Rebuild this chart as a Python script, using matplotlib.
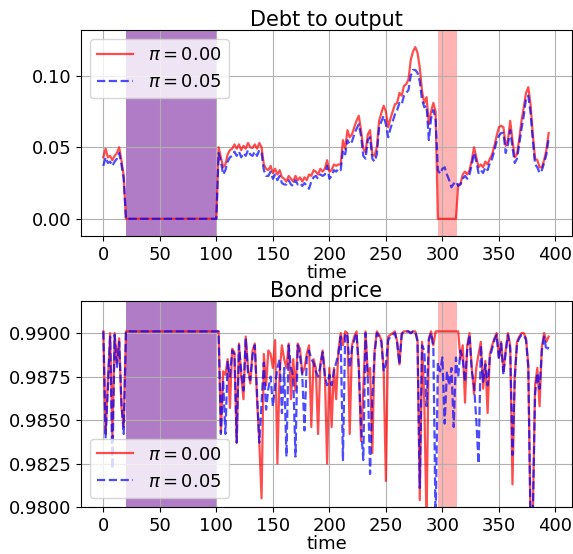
import numpy as np
import matplotlib
matplotlib.use("Agg")
import matplotlib.pyplot as plt

# time index (every second period)
time = list(range(0, 396, 2))

# ---------------- Debt to output ----------------
debt_pi000 = (
    [0.043, 0.049, 0.043, 0.044, 0.041, 0.044, 0.046, 0.050, 0.041, 0.030]
    + [0.0] * 41
    + [0.050, 0.043, 0.036, 0.038, 0.045, 0.048, 0.049, 0.052, 0.049, 0.052,
       0.048, 0.051, 0.049, 0.053, 0.050, 0.0495, 0.052, 0.049, 0.053, 0.050,
       0.038, 0.035, 0.034, 0.037, 0.032, 0.035, 0.031, 0.034, 0.029, 0.028,
       0.026, 0.030, 0.028, 0.026, 0.030, 0.027, 0.029, 0.026, 0.029, 0.027,
       0.031, 0.030, 0.034, 0.033, 0.031, 0.035, 0.033, 0.035, 0.041]
    + [0.033, 0.034, 0.038, 0.037, 0.038, 0.038, 0.055, 0.049, 0.062, 0.057,
       0.059, 0.064, 0.0685, 0.072, 0.062, 0.049, 0.0465, 0.059, 0.062, 0.045,
       0.044, 0.050, 0.0685, 0.074, 0.079, 0.075, 0.064, 0.070, 0.075, 0.080,
       0.081, 0.088, 0.086, 0.093, 0.094, 0.0975, 0.111, 0.117, 0.120, 0.116,
       0.1055, 0.089, 0.081, 0.085, 0.066, 0.075, 0.081, 0.075]
    + [0.0] * 9
    + [0.024, 0.0245, 0.031, 0.033, 0.031, 0.034, 0.041, 0.050, 0.043, 0.036,
       0.038, 0.036, 0.040, 0.038, 0.042, 0.045, 0.051, 0.058, 0.064, 0.065,
       0.064, 0.051, 0.055, 0.0685, 0.055, 0.043, 0.045, 0.056, 0.0685, 0.078,
       0.088, 0.092, 0.080, 0.059, 0.042, 0.041, 0.036, 0.036, 0.041, 0.048,
       0.060]
)

debt_pi005 = (
    [0.037, 0.043, 0.039, 0.040, 0.037, 0.040, 0.042, 0.046, 0.038, 0.028]
    + [0.0] * 41
    + [0.046, 0.040, 0.031, 0.034, 0.040, 0.043, 0.044, 0.047, 0.044, 0.047,
       0.043, 0.046, 0.044, 0.048, 0.045, 0.044, 0.047, 0.044, 0.048, 0.046,
       0.034, 0.030, 0.030, 0.033, 0.028, 0.031, 0.027, 0.030, 0.025, 0.024,
       0.024, 0.027, 0.024, 0.023, 0.027, 0.024, 0.025, 0.023, 0.025, 0.023,
       0.021, 0.026, 0.029, 0.030, 0.028, 0.031, 0.030, 0.031, 0.037]
    + [0.028, 0.030, 0.034, 0.033, 0.035, 0.034, 0.048, 0.045, 0.055, 0.052,
       0.054, 0.059, 0.063, 0.066, 0.058, 0.044, 0.042, 0.055, 0.057, 0.042,
       0.040, 0.045, 0.064, 0.068, 0.072, 0.066, 0.057, 0.063, 0.068, 0.073,
       0.076, 0.081, 0.080, 0.086, 0.088, 0.090, 0.100, 0.104, 0.104, 0.102,
       0.096, 0.083, 0.078, 0.079, 0.055, 0.070, 0.076, 0.070]
    + [0.034, 0.0315, 0.035, 0.036, 0.031, 0.027, 0.022, 0.0245, 0.026]
    + [0.023, 0.024, 0.028, 0.030, 0.028, 0.031, 0.038, 0.046, 0.040, 0.032,
       0.034, 0.032, 0.036, 0.034, 0.039, 0.042, 0.048, 0.054, 0.058, 0.060,
       0.060, 0.046, 0.052, 0.062, 0.050, 0.039, 0.042, 0.052, 0.063, 0.072,
       0.084, 0.086, 0.074, 0.055, 0.038, 0.036, 0.032, 0.034, 0.039, 0.045,
       0.056]
)

# ---------------- Bond price ----------------
price_pi000 = (
    [0.9901, 0.9842, 0.9873, 0.9900, 0.9840, 0.9900, 0.9883, 0.9897, 0.9858, 0.9846]
    + [0.9901] * 41
    + [0.9901, 0.9843, 0.9878, 0.9876, 0.9885, 0.9857, 0.9891, 0.9889, 0.9837, 0.9894,
       0.9875, 0.9862, 0.9898, 0.9880, 0.9871, 0.9890, 0.9894, 0.9862, 0.9837, 0.9805,
       0.9888, 0.9870, 0.9890, 0.9888, 0.9880, 0.9896, 0.9825, 0.9878, 0.9893, 0.9885,
       0.9880, 0.9894, 0.9862, 0.9885, 0.9867, 0.9894, 0.9891, 0.9877, 0.9880, 0.9888,
       0.9893, 0.9846, 0.9885, 0.9880, 0.9842, 0.9882, 0.9890, 0.9877, 0.9825]
    + [0.9880, 0.9846, 0.9880, 0.9862, 0.9890, 0.9900, 0.9893, 0.9901, 0.9900, 0.9842,
       0.9893, 0.9898, 0.9901, 0.9882, 0.9838, 0.9868, 0.9901, 0.9876, 0.9880, 0.9831,
       0.9890, 0.9901, 0.9899, 0.9896, 0.9880, 0.9815, 0.9898, 0.9899, 0.9900, 0.9901,
       0.9895, 0.9882, 0.9900, 0.9901, 0.9901, 0.9901, 0.9900, 0.9901, 0.9901, 0.9896,
       0.9804, 0.9895, 0.9860, 0.9790, 0.9897, 0.9901, 0.9893, 0.9901]
    + [0.9901] * 9
    + [0.9901, 0.9885, 0.9893, 0.9860, 0.9893, 0.9900, 0.9880, 0.9865, 0.9880, 0.9888,
       0.9895, 0.9868, 0.9884, 0.9854, 0.9888, 0.9893, 0.9897, 0.9900, 0.9886, 0.9895,
       0.9878, 0.9890, 0.9900, 0.9893, 0.9813, 0.9875, 0.9895, 0.9898, 0.9900, 0.9900,
       0.9897, 0.9882, 0.9790, 0.9795, 0.9870, 0.9880, 0.9858, 0.9892, 0.9900, 0.9895,
       0.9898]
)

price_pi005 = (
    [0.9901, 0.9840, 0.9868, 0.9898, 0.9822, 0.9899, 0.9880, 0.9895, 0.9860, 0.9842]
    + [0.9901] * 41
    + [0.9901, 0.9842, 0.9873, 0.9842, 0.9884, 0.9875, 0.9890, 0.9888, 0.9837, 0.9893,
       0.9878, 0.9867, 0.9897, 0.9877, 0.9873, 0.9887, 0.9893, 0.9865, 0.9837, 0.9860,
       0.9883, 0.9856, 0.9868, 0.9875, 0.9858, 0.9870, 0.9880, 0.9885, 0.9854, 0.9880,
       0.9829, 0.9893, 0.9880, 0.9875, 0.9829, 0.9893, 0.9887, 0.9876, 0.9844, 0.9886,
       0.9890, 0.9885, 0.9883, 0.9878, 0.9875, 0.9881, 0.9889, 0.9875, 0.9870]
    + [0.9876, 0.9870, 0.9878, 0.9883, 0.9888, 0.9898, 0.9827, 0.9900, 0.9898, 0.9880,
       0.9891, 0.9896, 0.9900, 0.9880, 0.9846, 0.9827, 0.9900, 0.9874, 0.9819, 0.9864,
       0.9888, 0.9900, 0.9898, 0.9895, 0.9878, 0.9882, 0.9896, 0.9898, 0.9899, 0.9900,
       0.9894, 0.9882, 0.9899, 0.9901, 0.9901, 0.9901, 0.9900, 0.9901, 0.9901, 0.9895,
       0.9811, 0.9893, 0.9890, 0.9858, 0.9896, 0.9900, 0.9892, 0.9790]
    + [0.9883, 0.9878, 0.9886, 0.9848, 0.9878, 0.9870, 0.9880, 0.9846, 0.9886]
    + [0.9875, 0.9890, 0.9885, 0.9872, 0.9891, 0.9899, 0.9878, 0.9870, 0.9850, 0.9825,
       0.9893, 0.9872, 0.9882, 0.9870, 0.9886, 0.9891, 0.9896, 0.9899, 0.9885, 0.9894,
       0.9876, 0.9889, 0.9899, 0.9891, 0.9830, 0.9873, 0.9894, 0.9897, 0.9899, 0.9899,
       0.9896, 0.9880, 0.9790, 0.9795, 0.9865, 0.9877, 0.9868, 0.9890, 0.9898, 0.9890,
       0.9892]
)

labels = [r"$\pi = 0.00$", r"$\pi = 0.05$"]
default_spans = [(20, 100, "#b07cc6"), (296, 313, "#ffb3b3")]

fs = 13
plt.rcParams.update({"font.size": fs})

fig = plt.figure(figsize=(5.73, 5.54), dpi=100)
ax1 = fig.add_axes([0.1414, 0.574, 0.857, 0.372])
ax2 = fig.add_axes([0.1414, 0.0848, 0.857, 0.372])

for ax, s0, s1, title, loc in [
    (ax1, debt_pi000, debt_pi005, "Debt to output", "upper left"),
    (ax2, price_pi000, price_pi005, "Bond price", "lower left"),
]:
    for a, b, c in default_spans:
        ax.axvspan(a, b, color=c, lw=0, zorder=0)
    ax.plot(time, s0, color="r", alpha=0.7, lw=1.6, label=labels[0])
    ax.plot(time, s1, color="b", ls="--", alpha=0.7, lw=1.6, label=labels[1])
    ax.set_title(title, fontsize=15, pad=3)
    ax.set_xlabel("time", fontsize=fs, labelpad=0)
    ax.grid(True)
    ax.set_xlim(-19.75, 414.75)
    ax.set_xticks([0, 50, 100, 150, 200, 250, 300, 350, 400])
    ax.legend(loc=loc, fontsize=fs)

ax1.set_ylim(-0.012, 0.132)
ax1.set_yticks([0.0, 0.05, 0.10])
ax1.set_yticklabels(["0.00", "0.05", "0.10"])
ax2.set_ylim(0.98, 0.99185)
ax2.set_yticks([0.98, 0.9825, 0.985, 0.9875, 0.99])
ax2.set_yticklabels(["0.9800", "0.9825", "0.9850", "0.9875", "0.9900"])

fig.savefig("out.png", dpi=100)
